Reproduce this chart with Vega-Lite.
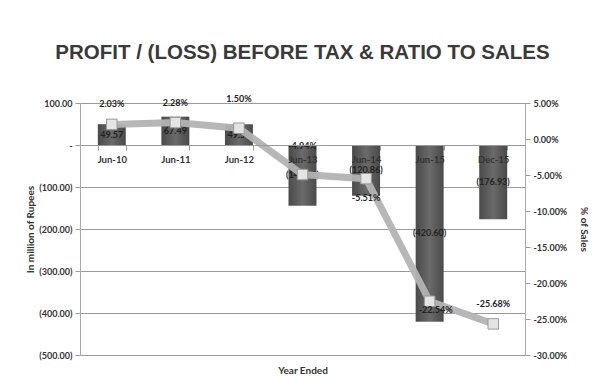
{
  "$schema": "https://vega.github.io/schema/vega-lite/v6.json",
  "width": 445,
  "height": 252,
  "autosize": {"type": "none"},
  "padding": {"left": 80, "top": 103, "right": 78, "bottom": 36},
  "background": "white",
  "title": {
    "text": "PROFIT / (LOSS) BEFORE TAX & RATIO TO SALES",
    "font": "Liberation Sans",
    "fontSize": 20.5,
    "fontWeight": "bold",
    "color": "#3a3a3a",
    "anchor": "middle",
    "offset": 32
  },
  "config": {
    "view": {"stroke": null},
    "locale": {"number": {"decimal": ".", "thousands": ",", "grouping": [3], "currency": ["$", ""], "minus": "-"}},
    "axis": {
      "labelFont": "Lato",
      "labelFontWeight": "bold",
      "labelFontSize": 9,
      "labelColor": "#333333",
      "labelOverlap": false,
      "titleFont": "Lato",
      "titleFontWeight": "bold",
      "titleFontSize": 10,
      "titleColor": "#333333"
    }
  },
  "data": {
    "values": [
      {"period": "Jun-10", "pbt": 49.57, "ratio": 0.0203},
      {"period": "Jun-11", "pbt": 67.49, "ratio": 0.0228},
      {"period": "Jun-12", "pbt": 49.52, "ratio": 0.0150},
      {"period": "Jun-13", "pbt": -144.68, "ratio": -0.0494},
      {"period": "Jun-14", "pbt": -120.86, "ratio": -0.0551},
      {"period": "Jun-15", "pbt": -420.60, "ratio": -0.2254},
      {"period": "Dec-15", "pbt": -176.93, "ratio": -0.2568}
    ]
  },
  "encoding": {
    "x": {
      "field": "period",
      "type": "nominal",
      "sort": null,
      "scale": {"paddingInner": 0.56, "paddingOuter": 0.28},
      "axis": {
        "orient": "bottom",
        "offset": -210,
        "title": "Year Ended",
        "titleY": 225,
        "titleBaseline": "middle",
        "labelAngle": 0,
        "labelPadding": 4,
        "labelFontSize": 9.5,
        "domainColor": "#999999",
        "tickColor": "#999999",
        "tickBand": "extent",
        "tickSize": 5,
        "zindex": 1
      }
    }
  },
  "layer": [
    {
      "mark": {
        "type": "bar",
        "color": {
          "gradient": "linear",
          "x1": 0, "x2": 1, "y1": 0, "y2": 0,
          "stops": [
            {"offset": 0, "color": "#4a4a4a"},
            {"offset": 0.5, "color": "#6a6a6a"},
            {"offset": 1, "color": "#4a4a4a"}
          ]
        }
      },
      "encoding": {
        "y": {
          "field": "pbt",
          "type": "quantitative",
          "scale": {"domain": [-500, 100], "nice": false, "zero": true},
          "axis": {
            "values": [100, 0, -100, -200, -300, -400, -500],
            "labelExpr": "datum.value == 0 ? '-' : format(datum.value, '(.2f')",
            "title": "In million of Rupees",
            "titlePadding": 3,
            "grid": true,
            "gridColor": "#9a9a9a",
            "domainColor": "#aaaaaa",
            "tickColor": "#9a9a9a",
            "tickSize": 5,
            "labelPadding": 3
          }
        }
      }
    },
    {
      "mark": {"type": "text", "font": "Lato", "fontWeight": "bold", "fontSize": 9, "color": "#222222", "baseline": "middle"},
      "encoding": {
        "y": {"field": "pbt", "type": "quantitative", "scale": {"domain": [-1000, 200], "nice": false}, "axis": null},
        "text": {"field": "pbt", "type": "quantitative", "format": "(.2f"}
      }
    },
    {
      "encoding": {
        "y": {
          "field": "ratio",
          "type": "quantitative",
          "scale": {"domain": [-0.30, 0.05], "nice": false, "zero": false},
          "axis": {
            "orient": "right",
            "values": [0.05, 0, -0.05, -0.1, -0.15, -0.2, -0.25, -0.3],
            "format": ".2%",
            "title": "% of Sales",
            "titlePadding": 12,
            "grid": false,
            "domainColor": "#aaaaaa",
            "tickColor": "#9a9a9a",
            "tickSize": 5,
            "labelPadding": 3
          }
        }
      },
      "layer": [
        {
          "mark": {"type": "line", "color": "#b3b3b3", "strokeWidth": 7, "opacity": 0.95}
        },
        {
          "mark": {"type": "point", "shape": "square", "filled": true, "size": 110, "fill": "#e4e4e4", "stroke": "#999999", "strokeWidth": 1, "opacity": 1}
        },
        {
          "transform": [{"filter": {"field": "period", "oneOf": ["Jun-10", "Jun-11", "Dec-15"]}}],
          "mark": {"type": "text", "font": "Lato", "fontWeight": "bold", "fontSize": 9, "color": "#222222", "dy": -20},
          "encoding": {"text": {"field": "ratio", "type": "quantitative", "format": ".2%"}}
        },
        {
          "transform": [{"filter": {"field": "period", "oneOf": ["Jun-12", "Jun-13"]}}],
          "mark": {"type": "text", "font": "Lato", "fontWeight": "bold", "fontSize": 9, "color": "#222222", "dy": -29},
          "encoding": {"text": {"field": "ratio", "type": "quantitative", "format": ".2%"}}
        },
        {
          "transform": [{"filter": {"field": "period", "equal": "Jun-14"}}],
          "mark": {"type": "text", "font": "Lato", "fontWeight": "bold", "fontSize": 9, "color": "#222222", "dy": 19},
          "encoding": {"text": {"field": "ratio", "type": "quantitative", "format": ".2%"}}
        },
        {
          "transform": [{"filter": {"field": "period", "equal": "Jun-15"}}],
          "mark": {"type": "text", "font": "Lato", "fontWeight": "bold", "fontSize": 9, "color": "#222222", "dy": 9, "dx": 6},
          "encoding": {"text": {"field": "ratio", "type": "quantitative", "format": ".2%"}}
        }
      ]
    }
  ],
  "resolve": {"scale": {"y": "independent"}}
}
